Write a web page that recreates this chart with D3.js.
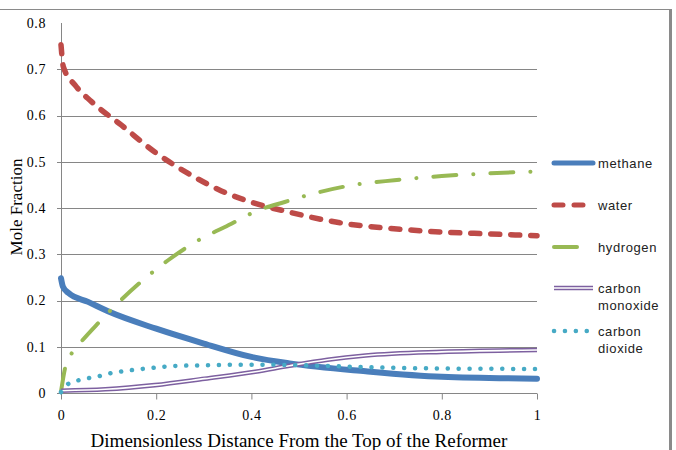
<!DOCTYPE html>
<html>
<head>
<meta charset="utf-8">
<script src="https://cdn.jsdelivr.net/npm/d3@7"></script>
<style>
  body { margin: 0; background: #fff; }
</style>
</head>
<body>
<svg id="chart" width="676" height="450"></svg>
<script>
// Mole fraction along the reformer as [distance, fraction]
const methane = [[0, 0.248], [0.004, 0.23], [0.016, 0.216], [0.057, 0.197], [0.1, 0.176], [0.2, 0.139],
  [0.3, 0.107], [0.4, 0.078], [0.48, 0.064], [0.64, 0.047], [0.8, 0.035], [1, 0.031]];
const water = [[0, 0.753], [0.005, 0.705], [0.03, 0.665], [0.064, 0.63], [0.127, 0.579], [0.197, 0.521],
  [0.267, 0.475], [0.337, 0.437], [0.408, 0.41], [0.48, 0.391], [0.586, 0.368], [0.69, 0.356],
  [0.8, 0.348], [0.9, 0.344], [1, 0.34]];
const hydrogen = [[0, 0.003], [0.009, 0.056], [0.022, 0.085], [0.04, 0.108], [0.078, 0.151], [0.12, 0.195],
  [0.162, 0.235], [0.225, 0.287], [0.28, 0.325], [0.358, 0.366], [0.414, 0.395], [0.47, 0.413],
  [0.53, 0.431], [0.61, 0.449], [0.7, 0.46], [0.8, 0.469], [0.9, 0.475], [1, 0.479]];
const carbonMonoxide = [[0, 0.005], [0.093, 0.008], [0.197, 0.017], [0.302, 0.031], [0.408, 0.046],
  [0.48, 0.059], [0.56, 0.072], [0.64, 0.081], [0.8, 0.089], [1, 0.093]];
const carbonDioxide = [[0, 0.002], [0.014, 0.019], [0.035, 0.027], [0.057, 0.032], [0.078, 0.036],
  [0.101, 0.042], [0.145, 0.049], [0.19, 0.054], [0.232, 0.058], [0.302, 0.06], [0.369, 0.061],
  [0.436, 0.061], [0.506, 0.06], [0.635, 0.056], [0.796, 0.053], [1, 0.052]];

const xTicks = [0, 0.2, 0.4, 0.6, 0.8, 1];
const yTicks = [0, 0.1, 0.2, 0.3, 0.4, 0.5, 0.6, 0.7, 0.8];
const legendNames = [["methane"], ["water"], ["hydrogen"], ["carbon", "monoxide"], ["carbon", "dioxide"]];

const svg = d3.select("#chart");
const margin = { left: 61, right: 139, top: 23, bottom: 57 };
const width = 676 - margin.left - margin.right;
const height = 450 - margin.top - margin.bottom;
const gridColor = "#868686";
const serif = '"Liberation Serif", "Times New Roman", serif';
const sans = '"Liberation Sans", Arial, sans-serif';

// outer frame of the chart (top and right edges are visible)
svg.append("line").attr("x1", 0).attr("x2", 671).attr("y1", 9.5).attr("y2", 9.5)
  .attr("stroke", "#8a8a8a").attr("stroke-width", 1);
svg.append("line").attr("x1", 670.5).attr("x2", 670.5).attr("y1", 9).attr("y2", 450)
  .attr("stroke", "#8a8a8a").attr("stroke-width", 3);

const g = svg.append("g").attr("transform", `translate(${margin.left},${margin.top})`);

const x = d3.scaleLinear().domain([0, 1]).range([0, width]);
const y = d3.scaleLinear().domain([0, 0.8]).range([height, 0]);

// horizontal gridlines (none on the top value)
g.selectAll(".grid").data(yTicks.filter(d => d > 0 && d < 0.8)).join("line")
  .attr("class", "grid")
  .attr("x1", -4).attr("x2", width)
  .attr("y1", d => Math.round(y(d)) + 0.5).attr("y2", d => Math.round(y(d)) + 0.5)
  .attr("stroke", gridColor);

const styleTickText = sel => sel
  .style("font-family", serif).style("font-size", "14px")
  .style("letter-spacing", "0.6px").attr("fill", "#000");

// y axis
const yAxis = d3.axisLeft(y).tickValues(yTicks).tickSize(0).tickPadding(15)
  .tickFormat(d => d === 0 ? "0" : d3.format(".1f")(d));
const yAxisG = g.append("g").call(yAxis);
yAxisG.select(".domain").remove();
yAxisG.selectAll("text").call(styleTickText);
g.append("line").attr("x1", 0.5).attr("x2", 0.5).attr("y1", 0).attr("y2", height + 0.5)
  .attr("stroke", gridColor);

// x axis
const xAxis = d3.axisBottom(x).tickValues(xTicks).tickSize(6).tickPadding(11)
  .tickFormat(d => d === 0 || d === 1 ? String(d) : d3.format(".1f")(d));
const xAxisG = g.append("g").attr("transform", `translate(0,${Math.round(height) + 0.5})`).call(xAxis);
xAxisG.select(".domain").attr("stroke", gridColor).attr("d", `M-4,0H${width}`);
xAxisG.selectAll(".tick line").attr("stroke", gridColor);
xAxisG.selectAll("text").call(styleTickText);

// axis titles
svg.append("text")
  .attr("x", 299).attr("y", 447).attr("text-anchor", "middle")
  .style("font-family", serif).style("font-size", "19px")
  .text("Dimensionless Distance From the Top of the Reformer");
svg.append("text")
  .attr("transform", "translate(22,207) rotate(-90)").attr("text-anchor", "middle")
  .style("font-family", serif).style("font-size", "17px")
  .text("Mole Fraction");

const line = d3.line().x(d => x(d[0])).y(d => y(d[1])).curve(d3.curveMonotoneX);

const series = [
  { data: methane, color: "#4A7EBB", width: 6, dash: null, cap: "round" },
  { data: water, color: "#BE4B48", width: 5.5, dash: "9,11", cap: "round" },
  { data: hydrogen, color: "#98B954", width: 4, dash: "23,17,0.1,17", cap: "round" },
  { data: carbonMonoxide, color: "#7D60A0", width: 4.6, dash: null, cap: "butt", double: true },
  { data: carbonDioxide, color: "#46AAC5", width: 4.5, dash: "0.1,10.8", cap: "round" }
];

const drawStroke = (sel, s, w, color) => sel
  .attr("fill", "none").attr("stroke", color).attr("stroke-width", w)
  .attr("stroke-dasharray", s.dash).attr("stroke-linecap", s.cap).attr("stroke-linejoin", "round");

// draw in Excel order (last series on top)
series.forEach(s => {
  g.append("path").datum(s.data).attr("d", line).call(drawStroke, s, s.width, s.color);
  if (s.double) g.append("path").datum(s.data).attr("d", line).call(drawStroke, s, 1.6, "#fff");
});

// legend
const legendY = [163, 205, 247, 288, 331];
const legend = svg.append("g");
series.forEach((s, i) => {
  const ly = legendY[i];
  const item = legend.append("g");
  item.append("line").attr("x1", 554).attr("x2", 593).attr("y1", ly).attr("y2", ly)
    .call(drawStroke, s, s.double ? 4.6 : Math.min(s.width, 5), s.color);
  if (s.double) item.append("line").attr("x1", 554).attr("x2", 593).attr("y1", ly).attr("y2", ly)
    .call(drawStroke, s, 1.6, "#fff");
  legendNames[i].forEach((t, j) => {
    item.append("text")
      .attr("x", 598).attr("y", ly + 4.5 + j * 17.5)
      .style("font-family", sans).style("font-size", "13px").style("letter-spacing", "0.6px")
      .attr("fill", "#222")
      .text(t);
  });
});
</script>
</body>
</html>
